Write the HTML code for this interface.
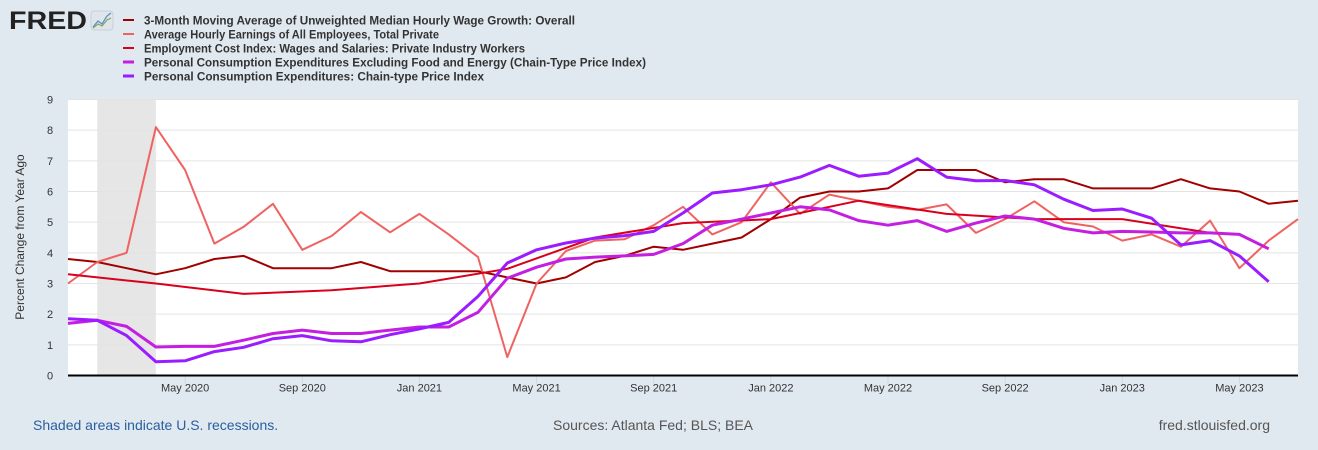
<!DOCTYPE html>
<html><head><meta charset="utf-8"><style>
html,body{margin:0;padding:0;background:#e1e9f0;}
svg{display:block;font-family:"Liberation Sans",Arial,sans-serif;}
</style></head><body>
<svg id="chart" width="1318" height="450" viewBox="0 0 1318 450">
<rect x="0" y="0" width="1318" height="450" fill="#e1e9f0"/>
<g>
<text x="9" y="29" font-size="25" font-weight="bold" fill="#222" textLength="78" lengthAdjust="spacingAndGlyphs">FRED</text>
<rect x="91" y="11" width="22" height="19" rx="3" fill="#dfe5ea" stroke="#c8d0d8"/>
<polyline points="93,27 98,21 102,24 107,16 111,13" fill="none" stroke="#5a8dc0" stroke-width="1.2"/>
<polyline points="93,28 98,24 102,26 107,20 111,18" fill="none" stroke="#7ca860" stroke-width="1.2"/>
</g>
<g id="legend"></g>
<rect x="68" y="99" width="1230" height="277" fill="#ffffff"/>
<g id="recess"></g>
<g id="grid"></g>
<g id="series"></g>
<g id="axes"></g>
<text transform="translate(24,237) rotate(-90)" text-anchor="middle" font-size="12" fill="#333">Percent Change from Year Ago</text>
<text x="33" y="430" font-size="14" fill="#2a5d9f">Shaded areas indicate U.S. recessions.</text>
<text x="653" y="430" font-size="14" fill="#555" text-anchor="middle">Sources: Atlanta Fed; BLS; BEA</text>
<text x="1270" y="430" font-size="14" fill="#555" text-anchor="end">fred.stlouisfed.org</text>
</svg>
<script>
const NS="http://www.w3.org/2000/svg";
const monthCount=43;
const yTicks=[0,1,2,3,4,5,6,7,8,9];
const xTickLabels=["May 2020","Sep 2020","Jan 2021","May 2021","Sep 2021","Jan 2022","May 2022","Sep 2022","Jan 2023","May 2023"];
const xTickMonths=[4,8,12,16,20,24,28,32,36,40];
const recessionStart=1, recessionEnd=3;
const wageTracker=[3.8,3.7,3.5,3.3,3.5,3.8,3.9,3.5,3.5,3.5,3.7,3.4,3.4,3.4,3.4,3.2,3.0,3.2,3.7,3.9,4.2,4.1,4.3,4.5,5.1,5.8,6.0,6.0,6.1,6.7,6.7,6.7,6.3,6.4,6.4,6.1,6.1,6.1,6.4,6.1,6.0,5.6,5.7];
const ahe=[3.0,3.7,4.0,8.1,6.7,4.3,4.85,5.6,4.1,4.55,5.33,4.67,5.27,4.6,3.86,0.6,3.0,4.06,4.4,4.44,4.9,5.5,4.6,5.0,6.3,5.27,5.9,5.7,5.5,5.4,5.58,4.65,5.1,5.68,5.0,4.86,4.4,4.6,4.2,5.05,3.5,4.4,5.1];
const eciMonths=[0,3,6,9,12,15,18,21,24,27,30,33,36,39];
const eci=[3.3,3.0,2.66,2.78,3.0,3.48,4.5,4.97,5.1,5.7,5.27,5.1,5.1,4.65];
const corePce=[1.7,1.8,1.6,0.93,0.95,0.95,1.15,1.37,1.48,1.37,1.37,1.48,1.58,1.58,2.06,3.17,3.53,3.8,3.86,3.9,3.95,4.3,4.9,5.1,5.3,5.5,5.4,5.05,4.9,5.05,4.7,4.97,5.2,5.1,4.8,4.65,4.7,4.68,4.65,4.65,4.6,4.13];
const pce=[1.85,1.8,1.3,0.45,0.48,0.78,0.92,1.2,1.3,1.13,1.1,1.33,1.52,1.73,2.58,3.67,4.1,4.32,4.48,4.56,4.7,5.3,5.95,6.06,6.22,6.47,6.85,6.5,6.6,7.07,6.47,6.35,6.36,6.22,5.75,5.38,5.43,5.13,4.26,4.4,3.9,3.06];
const legendLabels=["3-Month Moving Average of Unweighted Median Hourly Wage Growth: Overall","Average Hourly Earnings of All Employees, Total Private","Employment Cost Index: Wages and Salaries: Private Industry Workers","Personal Consumption Expenditures Excluding Food and Energy (Chain-Type Price Index)","Personal Consumption Expenditures: Chain-type Price Index"];

const X0=68,X1=1298,Y0=375.5,Y1=99.5;
const xS=m=>X0+(m/(monthCount-1))*(X1-X0);
const yS=v=>Y0-(v/9)*(Y0-Y1);
function mk(t,a,p){const e=document.createElementNS(NS,t);for(const k in a)e.setAttribute(k,a[k]);(p||document.getElementById('chart')).appendChild(e);return e;}

const rec=mk('rect',{x:xS(recessionStart),y:Y1,width:xS(recessionEnd)-xS(recessionStart),height:Y0-Y1,fill:'#e6e6e6'},document.getElementById('recess'));



const grid=document.getElementById('grid'),axes=document.getElementById('axes');
yTicks.forEach(v=>{
  if(v>0){const l=mk('line',{x1:X0,x2:X1,y1:yS(v),y2:yS(v),stroke:'#e3e3e3','stroke-width':1},grid);
  
  }
  const t=mk('text',{x:50,y:yS(v)+4,'font-size':11,fill:'#333','text-anchor':'middle'},axes);
  t.textContent=v;
  
  
});
xTickMonths.forEach((m,i)=>{
  const l=mk('line',{x1:xS(m),x2:xS(m),y1:Y0,y2:Y0+8,stroke:'#cdd8e4','stroke-width':1},axes);
  
  
  const t=mk('text',{x:xS(m),y:Y0+16,'font-size':11,fill:'#333','text-anchor':'middle'},axes);
  t.textContent=xTickLabels[i];
  
  
});
const ax=mk('line',{x1:X0,x2:X1,y1:Y0,y2:Y0,stroke:'#000','stroke-width':2},axes);



const ser=document.getElementById('series');
function line(vals,months,color,w,name){
  const pts=vals.map((v,i)=>xS(months?months[i]:i).toFixed(1)+','+yS(v).toFixed(1)).join(' ');
  const p=mk('polyline',{points:pts,fill:'none',stroke:color,'stroke-width':w,'stroke-linejoin':'round'},ser);
  
  
}
const colors=['#a00000','#f06262','#d8001c','#c41fe0','#9a1cff'];
const widths=[2,2,2,3,3];
line(wageTracker,null,colors[0],widths[0],'wage-tracker-line');
line(ahe,null,colors[1],widths[1],'ahe-line');
line(eci,eciMonths,colors[2],widths[2],'eci-line');
line(corePce,null,colors[3],widths[3],'core-pce-line');
line(pce,null,colors[4],widths[4],'pce-line');

const lg=document.getElementById('legend');
const lens=[431,295,381,502,340];
legendLabels.forEach((s,i)=>{
  const y=20+i*14;
  const r=mk('line',{x1:123,x2:134,y1:y,y2:y,stroke:colors[i],'stroke-width':widths[i]},lg);
  
  
  const t=mk('text',{x:144,y:y+4.5,'font-size':12,'font-weight':'bold',fill:'#333',textLength:lens[i],lengthAdjust:'spacingAndGlyphs'},lg);
  t.textContent=s;
  
  
});
</script>
</body></html>
